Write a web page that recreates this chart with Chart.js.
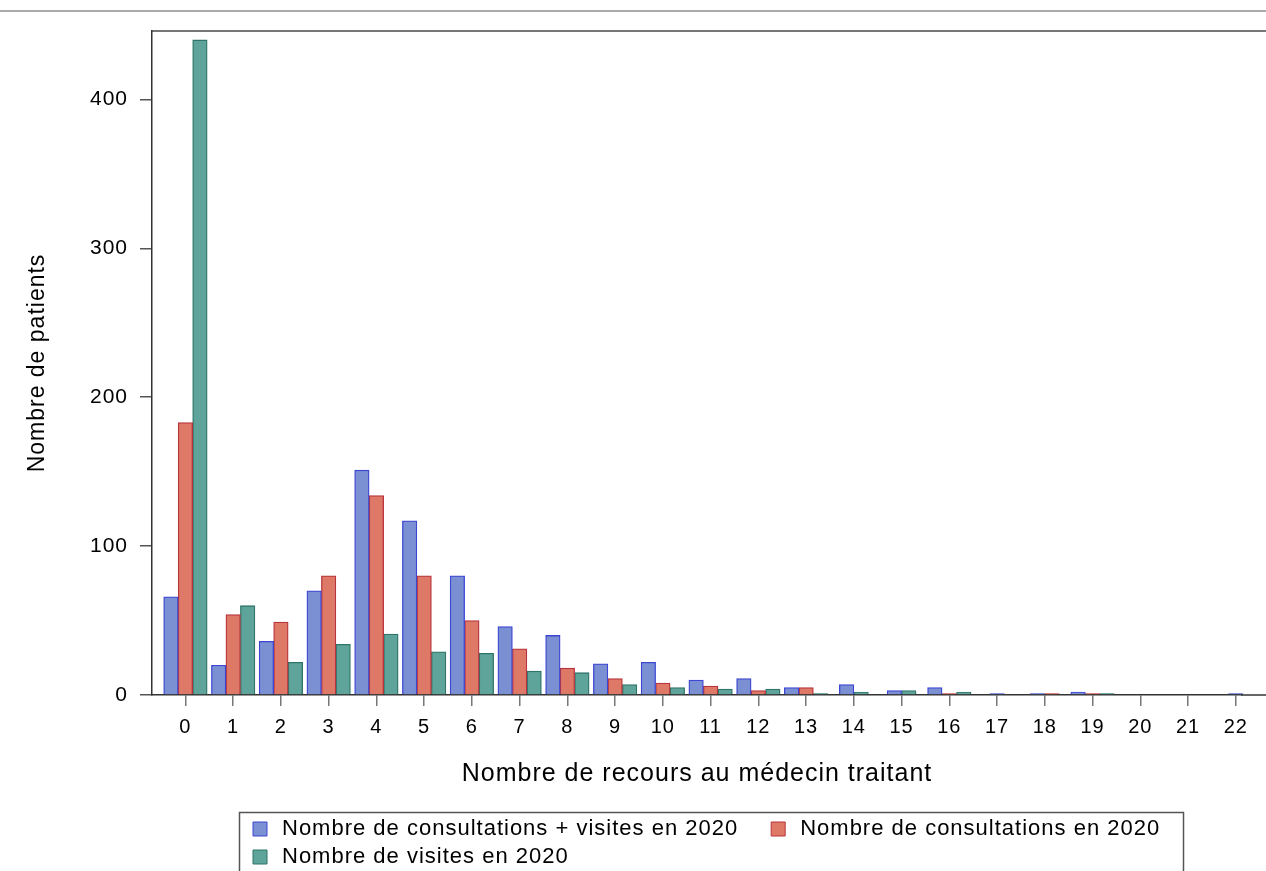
<!DOCTYPE html>
<html>
<head>
<meta charset="utf-8">
<script src="https://cdn.jsdelivr.net/npm/chart.js@4"></script>
<style>
  html, body { margin: 0; padding: 0; background: #fff; }
  #wrap { width: 1266px; height: 871px; }
</style>
</head>
<body>
<div id="wrap"><canvas id="c" width="1266" height="871"></canvas></div>
<script>
const categories = [0,1,2,3,4,5,6,7,8,9,10,11,12,13,14,15,16,17,18,19,20,21,22];
const consultVisites = [66, 20, 36, 70, 151, 117, 80, 46, 40, 21, 22, 10, 11, 5, 7, 3, 5, 1, 1, 2, null, null, 1];
const consultations = [183, 54, 49, 80, 134, 80, 50, 31, 18, 11, 8, 6, 3, 5, null, null, 1, null, 1, 1, null, null, null];
const visites = [440, 60, 22, 34, 41, 29, 28, 16, 15, 7, 5, 4, 4, 1, 2, 3, 2, null, null, 1, null, null, null];
const yTicks = [0, 100, 200, 300, 400];
const seriesLabels = ['Nombre de consultations + visites en 2020', 'Nombre de consultations en 2020', 'Nombre de visites en 2020'];
const FONT = "'Liberation Sans', Arial, sans-serif";

const framePlugin = {
  id: 'frame',
  beforeDraw(chart) {
    const ctx = chart.ctx;
    ctx.save();
    ctx.strokeStyle = '#aaaaaa';
    ctx.lineWidth = 2;
    ctx.beginPath(); ctx.moveTo(0, 11); ctx.lineTo(chart.width, 11); ctx.stroke();
    const a = chart.chartArea;
    ctx.strokeStyle = '#777777';
    ctx.lineWidth = 2;
    ctx.beginPath(); ctx.moveTo(a.left, a.top); ctx.lineTo(chart.width, a.top); ctx.stroke();
    ctx.strokeStyle = '#333333';
    ctx.lineWidth = 1.5;
    ctx.beginPath(); ctx.moveTo(a.right - 1, a.bottom); ctx.lineTo(chart.width, a.bottom); ctx.stroke();
    ctx.restore();
    if ('letterSpacing' in ctx) ctx.letterSpacing = '1px';
  },
  afterLayout(chart) {
    const lg = chart.legend;
    lg.left = 243; lg.right = 1183; lg.width = 940; lg.top = 812; lg.bottom = 871; lg.height = 59;
  },
  afterDraw(chart) {
    const ctx = chart.ctx;
    ctx.save();
    ctx.strokeStyle = '#555555';
    ctx.lineWidth = 1.5;
    ctx.strokeRect(239.5, 812.5, 944, 80);
    ctx.restore();
  }
};

const mk = (label, data, bg, bd) => ({
  label, data, backgroundColor: bg, borderColor: bd, borderWidth: 1.3,
  barThickness: 14.5, skipNull: true, clip: false
});

new Chart(document.getElementById('c'), {
  type: 'bar',
  data: {
    labels: categories,
    datasets: [
      mk(seriesLabels[0], consultVisites, '#7b8fd3', '#3c46d2'),
      mk(seriesLabels[1], consultations, '#de7867', '#b8343c'),
      mk(seriesLabels[2], visites, '#5fa49a', '#2e7469')
    ]
  },
  options: {
    responsive: false,
    animation: false,
    events: [],
    layout: { padding: { top: 31, right: 24, left: 0, bottom: 75 } },
    scales: {
      x: {
        type: 'linear',
        min: -0.70,
        max: 22.13,
        offset: false,
        afterBuildTicks(scale) { scale.ticks = categories.map(v => ({ value: v })); },
        afterFit(scale) { scale.height = 100; },
        ticks: { autoSkip: false, maxRotation: 0, padding: 9, color: '#000', font: { family: FONT, size: 20 },
          callback: (v) => String(v) },
        grid: { display: true, drawOnChartArea: false, drawTicks: true, tickLength: 11, color: '#777', offset: false, lineWidth: 1.5 },
        border: { display: true, color: '#333', width: 1.5 },
        title: { display: true, text: 'Nombre de recours au médecin traitant', color: '#000',
          font: { family: FONT, size: 25 }, padding: { top: 0, bottom: 6 } }
      },
      y: {
        min: 0,
        max: 446,
        afterBuildTicks(scale) { scale.ticks = yTicks.map(v => ({ value: v })); },
        afterFit(scale) { scale.width = 152; },
        ticks: { padding: 12, color: '#000', font: { family: FONT, size: 21 } },
        grid: { display: true, drawOnChartArea: false, drawTicks: true, tickLength: 12, color: '#555', lineWidth: 1.5 },
        border: { display: true, color: '#333', width: 1.5 },
        title: { display: true, text: 'Nombre de patients', color: '#000',
          font: { family: FONT, size: 23 }, padding: { top: 24, bottom: 0 } }
      }
    },
    plugins: {
      tooltip: { enabled: false },
      legend: {
        display: true,
        position: 'bottom',
        align: 'start',
        maxHeight: 1,
        labels: {
          usePointStyle: true,
          pointStyle: 'rect',
          boxWidth: 22,
          boxHeight: 14,
          padding: 6,
          color: '#000',
          font: { family: FONT, size: 22 },
          generateLabels(chart) {
            const items = Chart.defaults.plugins.legend.labels.generateLabels(chart);
            items.forEach(it => { it.pointStyle = 'rect'; it.lineWidth = 1; });
            if (items[0]) items[0].text = items[0].text + '\u2003';
            return items;
          }
        }
      }
    }
  },
  plugins: [framePlugin]
});
</script>
</body>
</html>
